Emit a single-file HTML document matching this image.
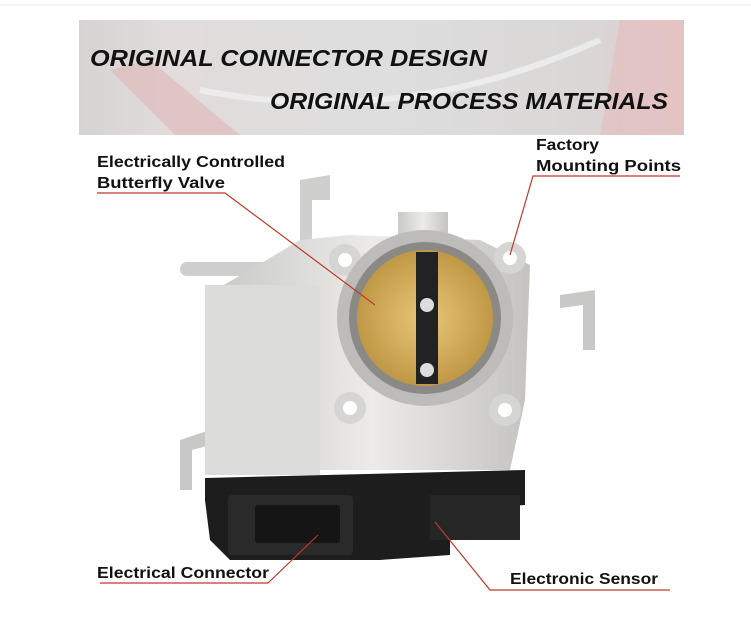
<!DOCTYPE html>
<html><head><style>
body{margin:0;background:#fff;width:751px;height:620px;overflow:hidden;font-family:"Liberation Sans","DejaVu Sans",sans-serif}
</style></head><body>
<svg width="751" height="620" xmlns="http://www.w3.org/2000/svg" style="position:absolute;left:0;top:0">
<defs>
<linearGradient id="bn" x1="0" x2="1" y1="0" y2="0">
<stop offset="0" stop-color="#d6d3d3"/><stop offset="0.15" stop-color="#e2dcdc"/><stop offset="0.5" stop-color="#dedede"/><stop offset="0.85" stop-color="#dad6d6"/><stop offset="1" stop-color="#e4cccc"/></linearGradient>
<radialGradient id="br" cx="0.5" cy="0.5" r="0.6"><stop offset="0" stop-color="#e8c77a"/><stop offset="1" stop-color="#b88f3a"/></radialGradient>
<linearGradient id="sv" x1="0" x2="1"><stop offset="0" stop-color="#c9c9c7"/><stop offset="0.5" stop-color="#ecebe8"/><stop offset="1" stop-color="#c4c3c0"/></linearGradient>
</defs>
<line x1="0" y1="5" x2="751" y2="5" stroke="#e6e6e6" stroke-width="1"/>
<rect x="79" y="20" width="605" height="115" fill="url(#bn)"/>
<path d="M110 70 L175 135 L240 135 L150 60 Z" fill="#e0b6b6" opacity="0.6"/>
<path d="M620 20 L684 20 L684 135 L600 135 Z" fill="#e4bcbc" opacity="0.6"/>
<path d="M200 90 Q400 130 600 40" stroke="#f0f0f0" stroke-width="6" fill="none" opacity="0.8"/>
<text x="90" y="66" font-size="23" font-weight="bold" font-style="italic" fill="#111" textLength="397" lengthAdjust="spacingAndGlyphs">ORIGINAL CONNECTOR DESIGN</text>
<text x="270" y="109" font-size="23" font-weight="bold" font-style="italic" fill="#111" textLength="398" lengthAdjust="spacingAndGlyphs">ORIGINAL PROCESS MATERIALS</text>
<!-- product -->
<path d="M300 180 L330 175 L330 200 L312 200 L312 240 L300 240 Z" fill="#cfcfcd"/>
<rect x="180" y="262" width="120" height="14" rx="7" fill="#cfcfcd"/>
<path d="M560 295 L595 290 L595 350 L583 350 L583 305 L560 308 Z" fill="#c8c8c6"/>
<path d="M180 440 L210 430 L210 445 L192 450 L192 490 L180 490 Z" fill="#c8c8c6"/>
<rect x="398" y="212" width="50" height="50" fill="url(#sv)"/>
<path d="M215 290 L250 270 L300 240 L350 235 L480 240 L530 265 L525 400 L510 470 L215 470 Z" fill="url(#sv)"/>
<rect x="205" y="285" width="115" height="190" fill="#dcdcda"/>
<circle cx="345" cy="260" r="16" fill="#d5d5d3"/><circle cx="345" cy="260" r="7" fill="#fff"/>
<circle cx="510" cy="258" r="16" fill="#d5d5d3"/><circle cx="510" cy="258" r="7" fill="#fff"/>
<circle cx="350" cy="408" r="16" fill="#d5d5d3"/><circle cx="350" cy="408" r="7" fill="#fff"/>
<circle cx="505" cy="410" r="16" fill="#d5d5d3"/><circle cx="505" cy="410" r="7" fill="#fff"/>
<circle cx="425" cy="318" r="88" fill="#bdbcba"/>
<circle cx="425" cy="318" r="76" fill="#8a8986"/>
<circle cx="425" cy="318" r="68" fill="url(#br)"/>
<rect x="416" y="252" width="22" height="132" fill="#222"/>
<circle cx="427" cy="305" r="7" fill="#ddd"/><circle cx="427" cy="370" r="7" fill="#ddd"/>
<path d="M205 478 L525 470 L525 505 L450 510 L450 555 L380 560 L230 560 L210 540 L205 500 Z" fill="#1d1d1d"/>
<rect x="228" y="495" width="125" height="60" rx="4" fill="#2a2a2a"/>
<rect x="255" y="505" width="85" height="38" rx="3" fill="#151515"/>
<rect x="430" y="495" width="90" height="45" fill="#262626"/>
<!-- callouts -->
<g stroke="#c0392b" stroke-width="1.2" fill="none">
<polyline points="97,193 225,193 375,305"/>
<polyline points="680,176 533,176 510,255"/>
<polyline points="100,583 268,583 318,535"/>
<polyline points="670,590 490,590 435,522"/>
</g>
<g font-size="16" font-weight="bold" fill="#111">
<text x="97" y="167" textLength="188" lengthAdjust="spacingAndGlyphs">Electrically Controlled</text>
<text x="97" y="188" textLength="128" lengthAdjust="spacingAndGlyphs">Butterfly Valve</text>
<text x="536" y="150" textLength="63" lengthAdjust="spacingAndGlyphs">Factory</text>
<text x="536" y="171" textLength="145" lengthAdjust="spacingAndGlyphs">Mounting Points</text>
<text x="97" y="578" textLength="172" lengthAdjust="spacingAndGlyphs">Electrical Connector</text>
<text x="510" y="584" textLength="148" lengthAdjust="spacingAndGlyphs">Electronic Sensor</text>
</g>
</svg>
</body></html>
